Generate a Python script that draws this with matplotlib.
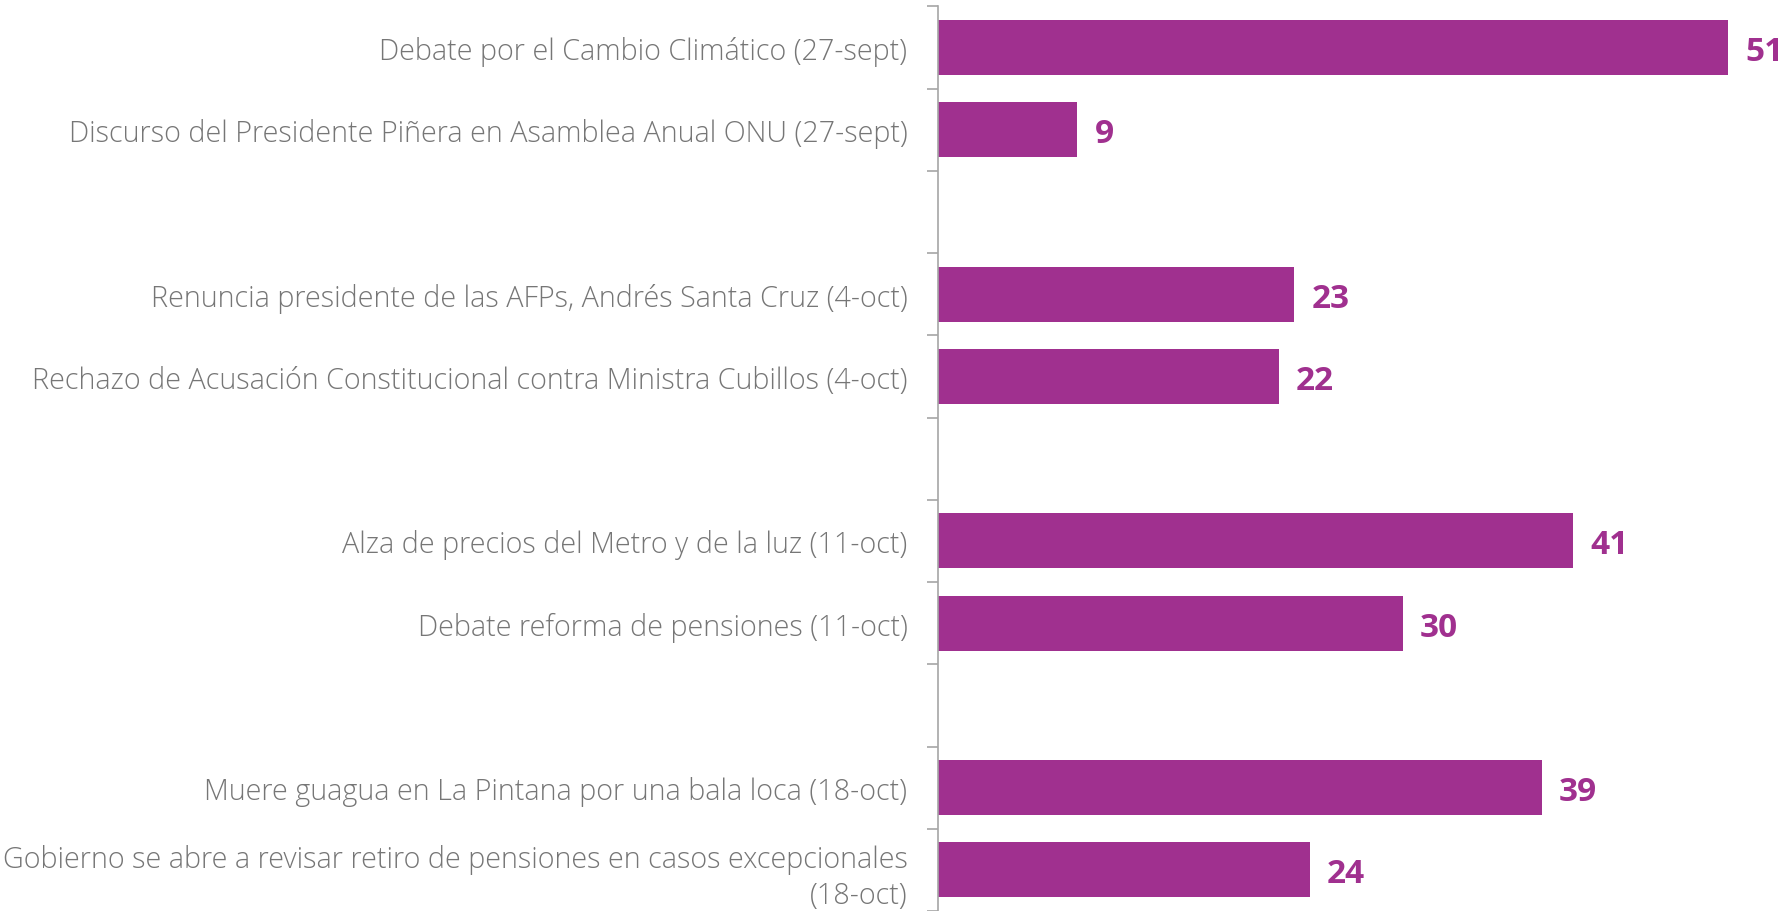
import numpy as np
import matplotlib
import matplotlib.pyplot as plt
from matplotlib.ticker import FixedLocator

matplotlib.use("Agg")

bar_color = "#A0308F"
label_color = "#767676"
axis_color = "#A6A6A6"

events = [
    "Debate por el Cambio Climático (27-sept)",
    "Discurso del Presidente Piñera en Asamblea Anual ONU (27-sept)",
    "",
    "Renuncia presidente de las AFPs, Andrés Santa Cruz (4-oct)",
    "Rechazo de Acusación Constitucional contra Ministra Cubillos (4-oct)",
    "",
    "Alza de precios del Metro y de la luz (11-oct)",
    "Debate reforma de pensiones (11-oct)",
    "",
    "Muere guagua en La Pintana por una bala loca (18-oct)",
    "Gobierno se abre a revisar retiro de pensiones en casos excepcionales\n(18-oct)",
]
values = [51, 9, np.nan, 23, 22, np.nan, 41, 30, np.nan, 39, 24]

plt.rcParams["font.family"] = ["Open Sans", "DejaVu Sans"]

fig = plt.figure(figsize=(17.9, 9.12), dpi=100)
ax = fig.add_axes([0.524, 0.0, 0.476, 0.992])

y = np.arange(len(events))
ax.barh(y, values, height=0.67, color=bar_color)

for yi, v in zip(y, values):
    if np.isnan(v):
        continue
    ax.text(v + 1.1, yi, f"{v:.0f}", va="center_baseline", ha="left",
            fontsize=24, fontweight="bold", color=bar_color)

ax.set_ylim(len(events) - 0.5, -0.5)
ax.set_xlim(0, 55)

ax.set_yticks(y)
ax.set_yticklabels(events, fontsize=20.7, fontweight="light", color=label_color,
                   ha="right", linespacing=1.3)
ax.yaxis.set_minor_locator(FixedLocator(np.arange(len(events) + 1) - 0.5))
ax.tick_params(axis="y", which="major", length=0, pad=22)
ax.tick_params(axis="y", which="minor", length=8, width=1.2, color=axis_color)
ax.set_xticks([])

for side in ["top", "right", "bottom"]:
    ax.spines[side].set_visible(False)
ax.spines["left"].set_color(axis_color)
ax.spines["left"].set_linewidth(1.2)

plt.savefig("out.png", dpi=100)
